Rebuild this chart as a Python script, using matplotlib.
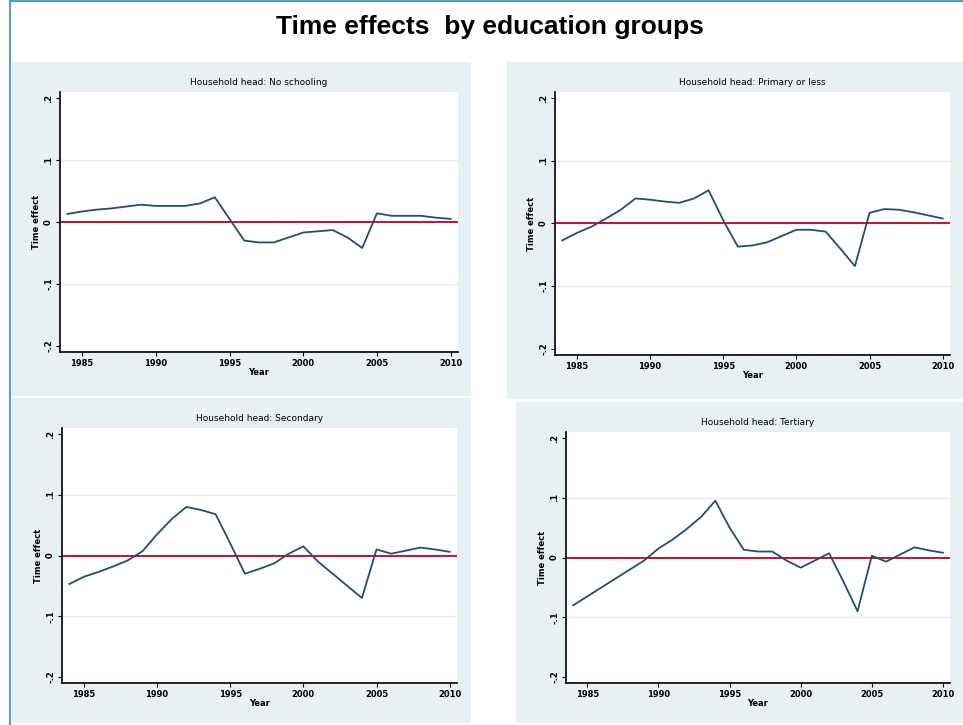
import matplotlib
matplotlib.use("Agg")
import matplotlib.pyplot as plt
from matplotlib.patches import Rectangle

years = list(range(1984, 2011))
titles = ["Household head: No schooling", "Household head: Primary or less",
          "Household head: Secondary", "Household head: Tertiary"]
no_school = [.013,.017,.02,.022,.025,.028,.026,.026,.026,.03,.04,.005,-.03,-.033,-.033,-.025,-.017,-.015,-.013,-.025,-.042,.014,.01,.01,.01,.007,.005]
primary = [-.027,-.015,-.005,.008,.022,.04,.038,.035,.033,.04,.053,.005,-.037,-.035,-.03,-.02,-.01,-.01,-.013,-.04,-.068,.017,.023,.022,.018,.013,.008]
secondary = [-.047,-.035,-.027,-.018,-.008,.007,.035,.06,.08,.075,.068,.02,-.03,-.022,-.013,.003,.015,-.01,-.03,-.05,-.07,.01,.003,.008,.013,.01,.006]
tertiary = [-.08,-.065,-.05,-.035,-.02,-.005,.015,.03,.048,.068,.095,.05,.013,.01,.01,-.005,-.017,-.005,.007,-.04,-.09,.003,-.007,.005,.017,.012,.008]
series = [no_school, primary, secondary, tertiary]
yticks = [-.2, -.1, 0, .1, .2]
ylabels = ["-.2", "-.1", "0", ".1", ".2"]
xticks = [1985, 1990, 1995, 2000, 2005, 2010]

W, H = 963, 725
fig = plt.figure(figsize=(W/100, H/100), dpi=100)
fig.patch.set_facecolor("white")
fig.add_artist(plt.Line2D([10/W, 10/W], [0, 1], color="#5b9bd5", lw=1.5))
fig.add_artist(plt.Line2D([10/W, 1], [1-1/H, 1-1/H], color="#5b9bd5", lw=1.5))
fig.text(490/W, 1-27/H, "Time effects  by education groups", ha="center", va="center",
         fontsize=19, fontweight="bold", family="Liberation Sans")

panels = [(12, 62, 470, 395), (507, 62, 962, 398), (12, 398, 470, 722), (516, 402, 962, 722)]
inner = [(60, 92, 458, 352), (555, 92, 950, 355), (62, 428, 457, 683), (566, 432, 950, 683)]
bg = "#e9f0f3"
for i in range(4):
    x0, y0, x1, y1 = panels[i]
    fig.add_artist(Rectangle((x0/W, 1-y1/H), (x1-x0)/W, (y1-y0)/H, color=bg, zorder=0))
    a0, b0, a1, b1 = inner[i]
    ax = fig.add_axes([a0/W, 1-b1/H, (a1-a0)/W, (b1-b0)/H])
    ax.set_facecolor("white")
    ax.plot(years, series[i], color="#1f4e79", lw=1.3, zorder=3)
    ax.axhline(0, color="#c8102e", lw=1.4, zorder=2)
    ax.set_ylim(-.21, .21)
    ax.set_xlim(1983.5, 2010.5)
    ax.set_yticks(yticks)
    ax.set_yticklabels(ylabels, rotation=90, va="center", fontsize=6, fontweight="bold")
    ax.set_xticks(xticks)
    ax.set_xticklabels([str(x) for x in xticks], fontsize=6, fontweight="bold")
    for y in [-.1, .1]:
        ax.axhline(y, color="#e6eef2", lw=1, zorder=1)
    for s in ["top", "right"]:
        ax.spines[s].set_visible(False)
    ax.spines["left"].set_linewidth(1.2)
    ax.spines["bottom"].set_linewidth(1.2)
    ax.tick_params(length=3, pad=2)
    ax.set_ylabel("Time effect", fontsize=6, labelpad=2, fontweight="bold")
    ax.set_xlabel("Year", fontsize=6, labelpad=0, fontweight="bold")
    ax.set_title(titles[i], fontsize=6.5, pad=5)

fig.savefig("out.png", dpi=100)
